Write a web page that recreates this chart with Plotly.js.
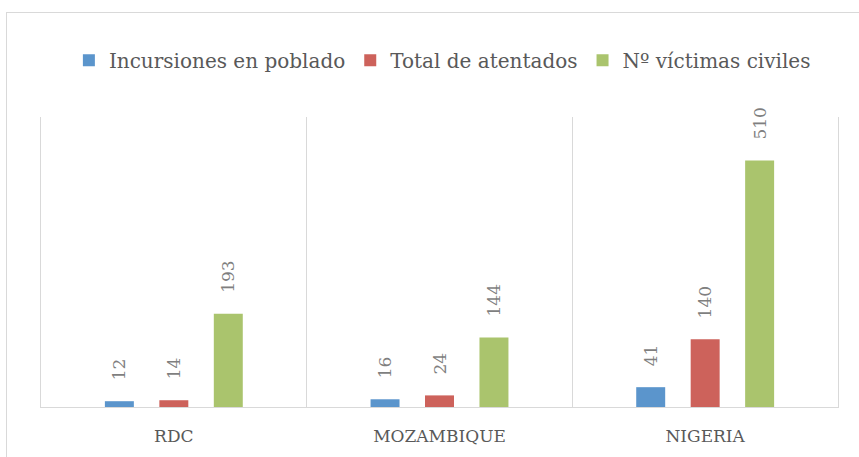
<!DOCTYPE html>
<html><head><meta charset="utf-8">
<script src="https://cdn.plot.ly/plotly-3.0.1.min.js"></script>
<style>
html,body{margin:0;padding:0;background:#fff;}
#wrap{position:relative;width:859px;height:457px;overflow:hidden;}
#frame{position:absolute;left:6px;top:12px;width:900px;height:500px;border:1px solid #d9d9d9;box-sizing:border-box;pointer-events:none;}
#chart{position:absolute;left:0;top:0;width:859px;height:457px;}
</style></head>
<body><div id="wrap"><div id="chart"></div><div id="frame"></div></div>
<script>
const categories = ['RDC', 'MOZAMBIQUE', 'NIGERIA'];
const seriesNames = ['Incursiones en poblado', 'Total de atentados', 'Nº víctimas civiles'];
const incursiones = [12, 16, 41];
const atentados = [14, 24, 140];
const victimas = [193, 144, 510];
const colors = ['#5B95CC', '#CD625B', '#AAC46D'];
const FONT = 'DejaVu Serif';
const pad = '\u00a0\u00a0\u00a0\u200a';

const values = [incursiones, atentados, victimas];
const traces = values.map((v, i) => ({
  type: 'bar', x: categories, y: v, name: seriesNames[i],
  marker: {color: colors[i]},
  text: v.map(n => pad + n), textposition: 'outside', textangle: -90,
  cliponaxis: false, constraintext: 'none',
  textfont: {family: FONT, size: 17, color: '#7f7f7f'},
  hoverinfo: 'skip'
}));

const layout = {
  width: 859, height: 457,
  margin: {l: 41, r: 21, t: 117, b: 50},
  paper_bgcolor: 'rgba(0,0,0,0)', plot_bgcolor: 'rgba(0,0,0,0)',
  barmode: 'group', bargap: 0.385, bargroupgap: 0.468,
  showlegend: true,
  legend: {orientation: 'h', x: 0.515, xanchor: 'center', xref: 'container', y: 0.868, yref: 'container', yanchor: 'middle',
    font: {family: FONT, size: 20, color: '#595959'}, itemwidth: 30, traceorder: 'normal'},
  xaxis: {type: 'category', tickson: 'boundaries', showgrid: true, gridcolor: '#d9d9d9', gridwidth: 1,
    showline: true, linecolor: '#d9d9d9', linewidth: 1, ticks: '', ticklen: 0, ticklabelstandoff: 14,
    tickfont: {family: FONT, size: 17, color: '#595959'}, range: [-0.5, 2.5], fixedrange: true},
  yaxis: {range: [0, 600], showgrid: false, zeroline: false, showticklabels: false, ticks: '',
    showline: true, mirror: true, linecolor: '#d9d9d9', linewidth: 1, fixedrange: true}
};
Plotly.newPlot('chart', traces, layout, {displayModeBar: false, staticPlot: true});
</script></body></html>
